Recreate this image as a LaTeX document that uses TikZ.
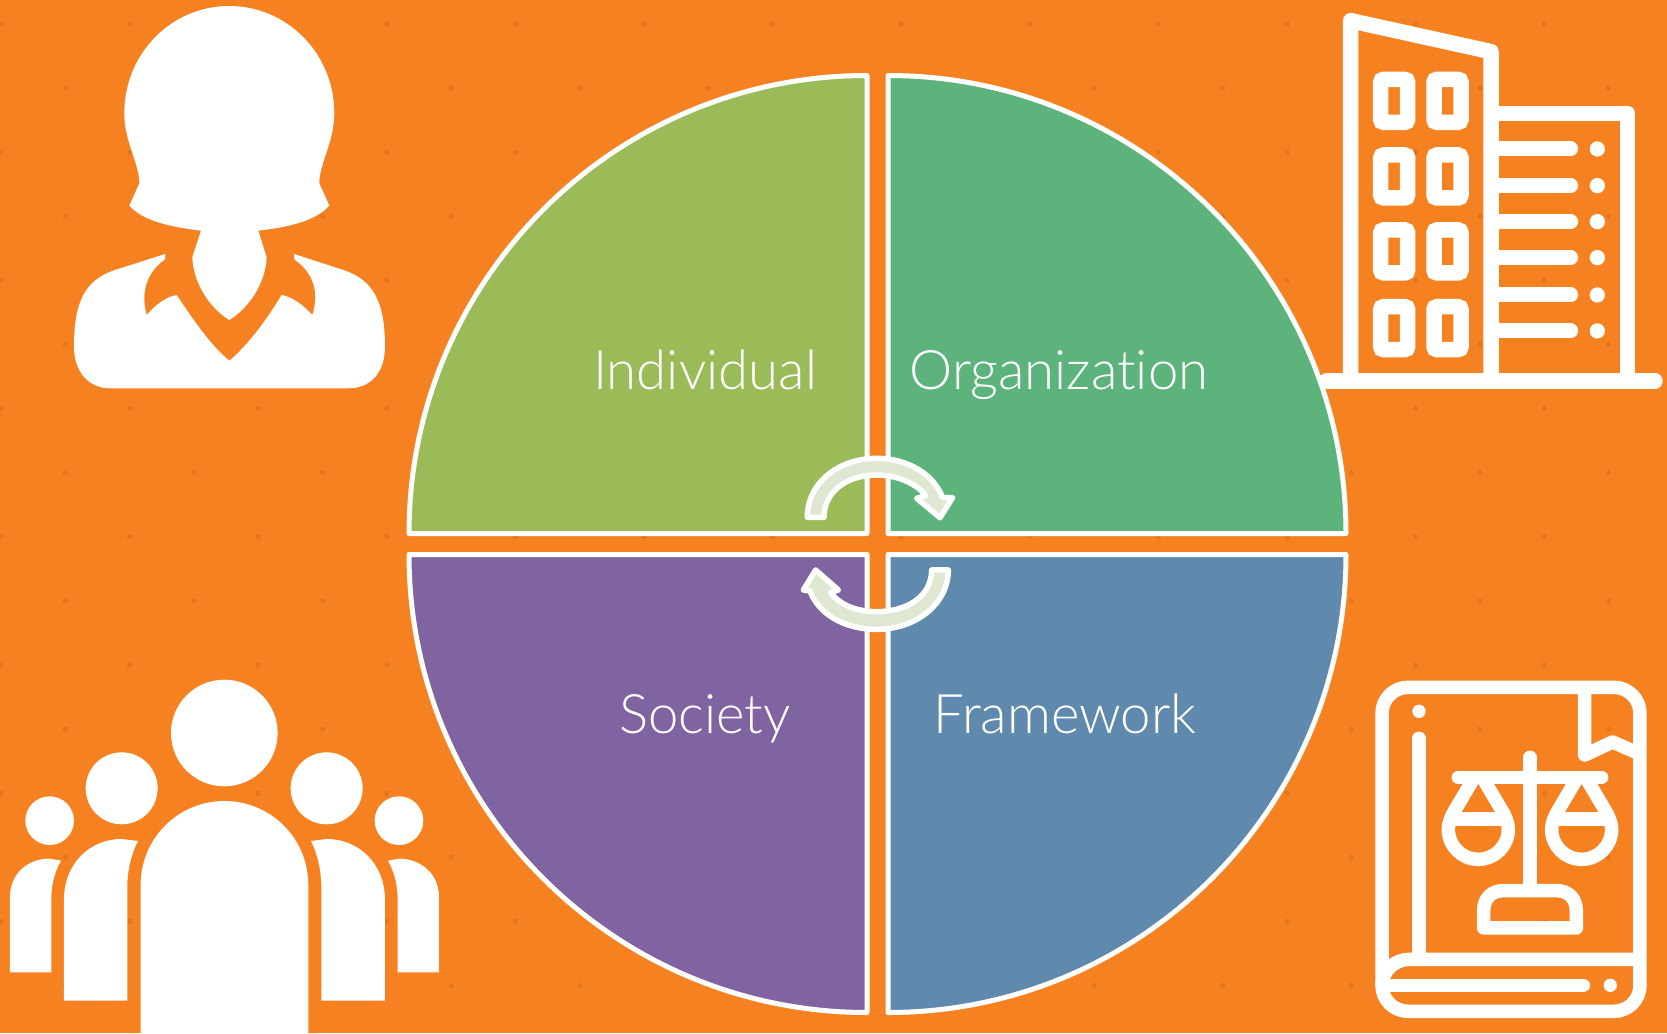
\documentclass[tikz,border=0pt]{standalone}
\usepackage{fontspec}
\setmainfont[RawFeature=-liga;-dlig]{Lato Light}
\definecolor{bgorange}{HTML}{F68121}
\definecolor{spotorange}{HTML}{E07620}
\definecolor{qgreen}{HTML}{9BBB59}
\definecolor{qteal}{HTML}{5CB37C}
\definecolor{qpurple}{HTML}{8064A2}
\definecolor{qblue}{HTML}{5F8AAD}
\definecolor{arrowfill}{HTML}{DFE6D2}
\tikzset{
  quadrant/.style={draw=white,line width=5pt,line join=round},
  qlabel/.style={text=white,anchor=base,inner sep=0pt,font=\fontsize{54.5}{60}\selectfont},
  cyclearrow/.style={draw=white,fill=arrowfill,line width=5.5pt,line join=round},
  iconfill/.style={fill=white,draw=none},
  iconline/.style={draw=white,line width=15.5pt,line join=round,line cap=round},
  bookline/.style={draw=white,line width=13.5pt,line join=round,line cap=round}
}
\begin{document}
\begin{tikzpicture}[x=1pt,y=-1pt]
\useasboundingbox (0,0) rectangle (1667,1033);
\clip (0,0) rectangle (1667,1033);
\fill[bgorange] (0,0) rectangle (1667,1033);
% background texture
\foreach \i in {0,...,26}{\foreach \j in {0,...,16}{
  \pgfmathtruncatemacro{\parity}{mod(\i+\j,2)}
  \ifnum\parity=0
    \fill[spotorange] ({1+64.3*\i},{24+64.1*\j}) circle (2.6pt);
  \fi
}}
% quadrants
\draw[quadrant,fill=qgreen] (867,533.5) -- (409,533.5) arc[start angle=180,end angle=270,radius=458] -- cycle;
\draw[quadrant,fill=qteal] (888,533.5) -- (888,75.5) arc[start angle=270,end angle=360,radius=458] -- cycle;
\draw[quadrant,fill=qpurple] (867,554.5) -- (867,1012.5) arc[start angle=90,end angle=180,radius=458] -- cycle;
\draw[quadrant,fill=qblue] (888,554.5) -- (1346,554.5) arc[start angle=0,end angle=90,radius=458] -- cycle;
% labels
\node[qlabel] (individual) at (705,389) {Individual};
\node[qlabel] (organization) at (1059,389) {Organization};
\node[qlabel] (society) at (705,733) {Society};
\node[qlabel] (framework) at (1065,733) {Framework};
% cycle arrows
\begin{scope}[shift={(760,430)},x=0.3333pt,y=-0.3333pt]
\draw[cyclearrow] (142,262) .. controls (142,155) and (240,85) .. (350,85) .. controls (440,85) and (520,130) .. (548,203) -- (578,203) -- (540,263) -- (470,205) -- (497,197) .. controls (470,160) and (410,135) .. (350,135) .. controls (260,135) and (192,185) .. (192,262) -- cycle;
\draw[cyclearrow] (565,420) .. controls (565,520) and (470,598) .. (350,598) .. controls (250,598) and (175,550) .. (150,483) -- (130,480) -- (167,420) -- (235,480) -- (212,488) .. controls (240,525) and (290,545) .. (350,545) .. controls (440,545) and (515,500) .. (515,420) -- cycle;
\end{scope}
% person
\begin{scope}[shift={(60,0)},x=0.3333pt,y=-0.3333pt]
\fill[iconfill] (508,18) .. controls (335,18) and (193,160) .. (193,340) .. controls (193,425) and (238,490) .. (238,550) -- (208,617) .. controls (250,665) and (340,682) .. (423,692) -- (397,772) .. controls (400,850) and (450,925) .. (508,960) .. controls (566,925) and (617,850) .. (620,772) -- (595,692) .. controls (680,682) and (765,665) .. (808,617) -- (778,550) .. controls (778,490) and (823,425) .. (823,340) .. controls (823,160) and (680,18) .. (508,18) -- cycle;
\fill[iconfill] (316,762) -- (165,810) .. controls (75,840) and (42,905) .. (42,1040) .. controls (42,1120) and (90,1165) .. (150,1165) -- (865,1165) .. controls (930,1165) and (975,1120) .. (975,1040) .. controls (975,905) and (940,840) .. (850,810) -- (702,762) -- (703,778) .. controls (770,825) and (775,890) .. (757,945) .. controls (730,915) and (695,890) .. (665,885) .. controls (620,960) and (560,1040) .. (508,1082) .. controls (455,1040) and (400,960) .. (350,885) .. controls (320,890) and (285,915) .. (260,945) .. controls (245,890) and (250,825) .. (315,778) -- cycle;
\end{scope}
% group
\begin{scope}[shift={(0,670)},x=0.3333pt,y=-0.3333pt]
\fill[iconfill] (673,189) circle[radius=160];
\fill[iconfill] (422,1095) -- (422,645) .. controls (422,505) and (535,393) .. (673,393) .. controls (812,393) and (925,505) .. (925,645) -- (925,1095) -- cycle;
\fill[iconfill] (365,355) circle[radius=108];
\fill[iconfill] (980,355) circle[radius=108];
\fill[iconfill] (149,452) circle[radius=73];
\fill[iconfill] (1197,452) circle[radius=73];
\fill[iconfill] (192,992) -- (192,690) .. controls (192,580) and (270,507) .. (365,507) -- (414,513) .. controls (395,550) and (382,600) .. (382,650) -- (382,992) -- cycle;
\fill[iconfill] (1155,992) -- (1155,690) .. controls (1155,580) and (1075,507) .. (980,507) -- (933,513) .. controls (952,550) and (964,600) .. (964,650) -- (964,992) -- cycle;
\fill[iconfill] (30,907) -- (30,680) .. controls (30,610) and (85,566) .. (148,566) -- (183,572) .. controls (165,605) and (154,640) .. (154,690) -- (154,907) -- cycle;
\fill[iconfill] (1317,907) -- (1317,680) .. controls (1317,610) and (1260,566) .. (1198,566) -- (1164,572) .. controls (1182,605) and (1193,640) .. (1193,690) -- (1193,907) -- cycle;
\end{scope}
% building
\begin{scope}[shift={(1300,0)},x=0.3333pt,y=-0.3333pt]
\draw[iconline] (80,1143) -- (1065,1143);
\draw[iconline,line cap=butt] (152,1143) -- (152,62) -- (573,155) -- (573,1143);
\draw[iconline,line cap=butt] (573,340) -- (983,340) -- (983,1143);
\foreach \wy in {238,465,690,920}{
  \foreach \wx in {242,402}{
    \draw[draw=white,line width=15.5pt,rounded corners=3pt] (\wx,\wy) rectangle ({\wx+81},{\wy+129});
  }
}
\foreach \ly in {447,557,665,773,885,993}{
  \draw[draw=white,line width=15pt,line cap=round] (573,\ly) -- (812,\ly);
  \fill[iconfill] (892,\ly) circle[radius=23];
}
\end{scope}
% book
\begin{scope}[shift={(1360,670)},x=0.3333pt,y=-0.3333pt]
\draw[bookline,rounded corners=26pt] (66,52) rectangle (840,1024);
\draw[bookline,line cap=butt] (840,868) -- (150,868) .. controls (105,868) and (66,900) .. (66,950);
\draw[bookline] (72,946) -- (670,946);
\fill[iconfill] (751,946) circle[radius=20];
\draw[bookline] (177,868) -- (177,205);
\fill[iconfill] (177,124) circle[radius=20];
\draw[bookline,line cap=butt] (674,52) -- (674,255) -- (758,216) -- (840,252);
\draw[bookline] (295,322) -- (725,322);
\draw[bookline] (510,262) -- (510,660);
\draw[bookline] (371,774) -- (371,722) .. controls (371,685) and (395,662) .. (430,662) -- (590,662) .. controls (625,662) and (649,685) .. (649,722) -- (649,774) -- cycle;
\foreach \px in {0,310}{
  \begin{scope}[xshift=\px*0.3333pt]
  \draw[bookline,line cap=butt] (343,322) -- (285,420) .. controls (272,442) and (265,460) .. (265,478) arc[start angle=180,end angle=0,radius=90] .. controls (445,460) and (438,442) .. (425,420) -- (367,322);
  \draw[bookline] (275,447) -- (435,447);
  \end{scope}
}
\end{scope}
\end{tikzpicture}
\end{document}
